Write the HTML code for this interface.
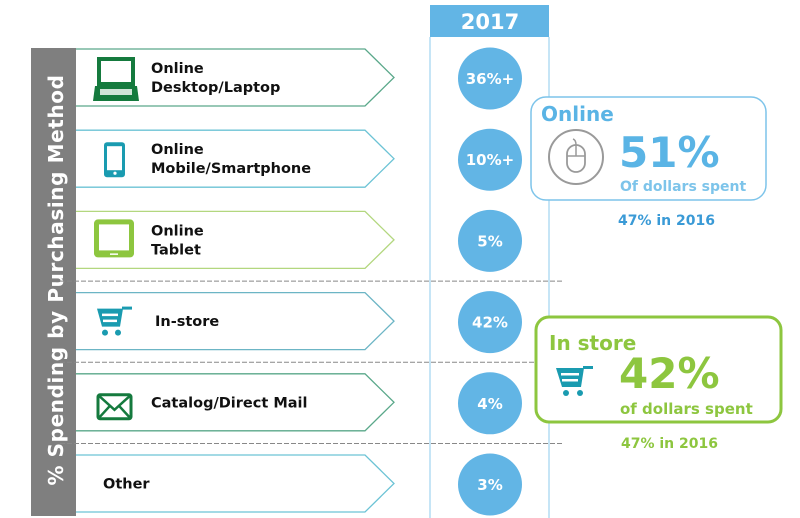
<!DOCTYPE html>
<html><head><meta charset="utf-8">
<style>
body{margin:0;width:800px;height:518px;background:#fff;overflow:hidden;font-family:"DejaVu Sans","Liberation Sans",sans-serif;}
svg{display:block}
</style></head>
<body>
<svg id="chart" width="800" height="518" xmlns="http://www.w3.org/2000/svg">
  <rect x="31" y="48" width="45" height="468" fill="#7f7f7f"/>
  <text transform="translate(63,280) rotate(-90)" text-anchor="middle" font-size="20" font-weight="bold" fill="#fff" letter-spacing="0.6">% Spending  by Purchasing Method</text>
  <rect x="430" y="5" width="119" height="32" fill="#62b5e5"/>
  <text x="490" y="29" text-anchor="middle" font-size="21" font-weight="bold" fill="#fff">2017</text>
  <line x1="430" y1="37" x2="430" y2="518" stroke="#8ccbec" stroke-width="1"/>
  <line x1="549" y1="37" x2="549" y2="518" stroke="#8ccbec" stroke-width="1"/>
  <g id="rows"></g>
  <g>
    <rect x="531" y="97" width="235" height="103" rx="15" fill="#fff" stroke="#7dc4ea" stroke-width="1.5"/>
    <text x="541" y="121" font-size="20" font-weight="bold" fill="#5ab4e5">Online</text>
    <circle cx="576" cy="157" r="27" fill="none" stroke="#9a9a9a" stroke-width="2"/>
    <rect x="567" y="145" width="18" height="27" rx="9" fill="none" stroke="#9a9a9a" stroke-width="1.8"/>
    <path d="M567 156 H585 M576 145 V156 M576 145 Q576 140 573 139" fill="none" stroke="#9a9a9a" stroke-width="1.5"/>
    <text x="619" y="167" font-size="42" font-weight="bold" fill="#5ab4e5">51%</text>
    <text x="620" y="191" font-size="14" font-weight="bold" fill="#7dc4ea">Of dollars spent</text>
    <text x="618" y="225" font-size="14" font-weight="bold" fill="#3a9ad6">47% in 2016</text>
  </g>
  <g>
    <rect x="536" y="317" width="245" height="105" rx="13" fill="#fff" stroke="#8dc63f" stroke-width="3"/>
    <text x="549" y="350" font-size="20" font-weight="bold" fill="#8dc63f">In store</text>
    <g transform="translate(556,366)" fill="#1a9bb0">
      <path d="M0 2 H28 L25 21 H6 Z"/><rect x="27" y="0" width="10" height="3"/><circle cx="10" cy="27" r="3"/><circle cx="24" cy="27" r="3"/>
      <rect x="5" y="7" width="18" height="2.5" fill="#fff"/><rect x="6" y="13" width="16" height="2.5" fill="#fff"/>
    </g>
    <text x="619" y="388" font-size="42" font-weight="bold" fill="#8dc63f">42%</text>
    <text x="620" y="414" font-size="15" font-weight="bold" fill="#8dc63f">of dollars spent</text>
    <text x="621" y="448" font-size="14" font-weight="bold" fill="#8dc63f">47% in 2016</text>
  </g>
</svg>
<script>
const categories = ["Online|Desktop/Laptop","Online|Mobile/Smartphone","Online|Tablet","In-store","Catalog/Direct Mail","Other"];
const values = [36, 10, 5, 42, 4, 3];
const valueSuffix = ["+","+","","","",""];
const NS="http://www.w3.org/2000/svg";
const colors=["#5aa88a","#6cc3d5","#b3d77f","#6cb5c5","#5aa88a","#6cc3d5"];
const rows=document.getElementById('rows');
const y0=49, step=81.2, h=57;
function rowY(i){return y0+i*step;}
function mk(t,a){const e=document.createElementNS(NS,t);for(const k in a)e.setAttribute(k,a[k]);return e;}
[3,4,5].forEach(i=>{
  const y=rowY(i)-11.5;
  const l=mk('line',{x1:60,y1:y,x2:562,y2:y,stroke:'#888','stroke-dasharray':'5,2','stroke-width':1});
  
  
  rows.appendChild(l);
});
categories.forEach((c,i)=>{
  const y=rowY(i);
  const g=mk('g',{});
  
  
  const p=mk('path',{d:`M76 ${y} H365 L394 ${y+h/2} L365 ${y+h} H76`,fill:'#fff',stroke:colors[i],'stroke-width':1.3});
  
  
  g.appendChild(p);
  const lines=c.split('|');
  const tx = i<3?151:(i===5?103:(i===3?155:151));
  lines.forEach((ln,j)=>{
    const t=mk('text',{x:tx,y:y+h/2+5+(lines.length>1?(j-0.5)*19:0),'font-size':14.5,'font-weight':'bold',fill:'#111'});
    t.textContent=ln;
    
    
    g.appendChild(t);
  });
  const cy=y+h/2+1;
  const circ=mk('ellipse',{cx:490,cy:cy,rx:32,ry:31,fill:'#62b5e5'});
  
  
  g.appendChild(circ);
  const vt=mk('text',{x:490,y:cy+5.5,'text-anchor':'middle','font-size':15,'font-weight':'bold',fill:'#fff'});
  vt.textContent=values[i]+'%'+valueSuffix[i];
  
  
  g.appendChild(vt);
  rows.appendChild(g);
});
function icon(i,html){const g=mk('g',{transform:`translate(0,${rowY(i)})`});g.innerHTML=html;
  
  
  rows.appendChild(g);}
icon(0,'<rect x="97" y="8" width="38" height="29" fill="#157a3e"/><rect x="101" y="12" width="30" height="21" fill="#fff"/><path d="M95 37 H137 L139 52 H93 Z" fill="#157a3e"/><rect x="100" y="40" width="32" height="6" fill="#fff" opacity="0.8"/>');
icon(1,'<rect x="104" y="12" width="21" height="35" rx="3" fill="#1a9bb0"/><rect x="107" y="16" width="15" height="24" fill="#fff"/><circle cx="115" cy="43" r="1.6" fill="#fff"/>');
icon(2,'<rect x="94" y="8" width="40" height="38" rx="4" fill="#8dc63f"/><rect x="99" y="13" width="30" height="26" fill="#fff"/><rect x="110" y="42" width="8" height="1.5" fill="#fff"/>');
icon(3,'<g transform="translate(97,14)" fill="#1a9bb0"><path d="M0 2 H26 L23 20 H5 Z"/><rect x="25" y="0" width="10" height="3"/><circle cx="8" cy="26" r="3"/><circle cx="21" cy="26" r="3"/><rect x="5" y="7" width="16" height="2.5" fill="#fff"/><rect x="6" y="13" width="14" height="2.5" fill="#fff"/></g>');
icon(4,'<rect x="98" y="21" width="33" height="24" rx="2" fill="#fff" stroke="#157a3e" stroke-width="3"/><path d="M99 22 L114.5 36 L130 22 M99 44 L110 32 M130 44 L119 32" fill="none" stroke="#157a3e" stroke-width="2.5"/>');
</script>
</body></html>
